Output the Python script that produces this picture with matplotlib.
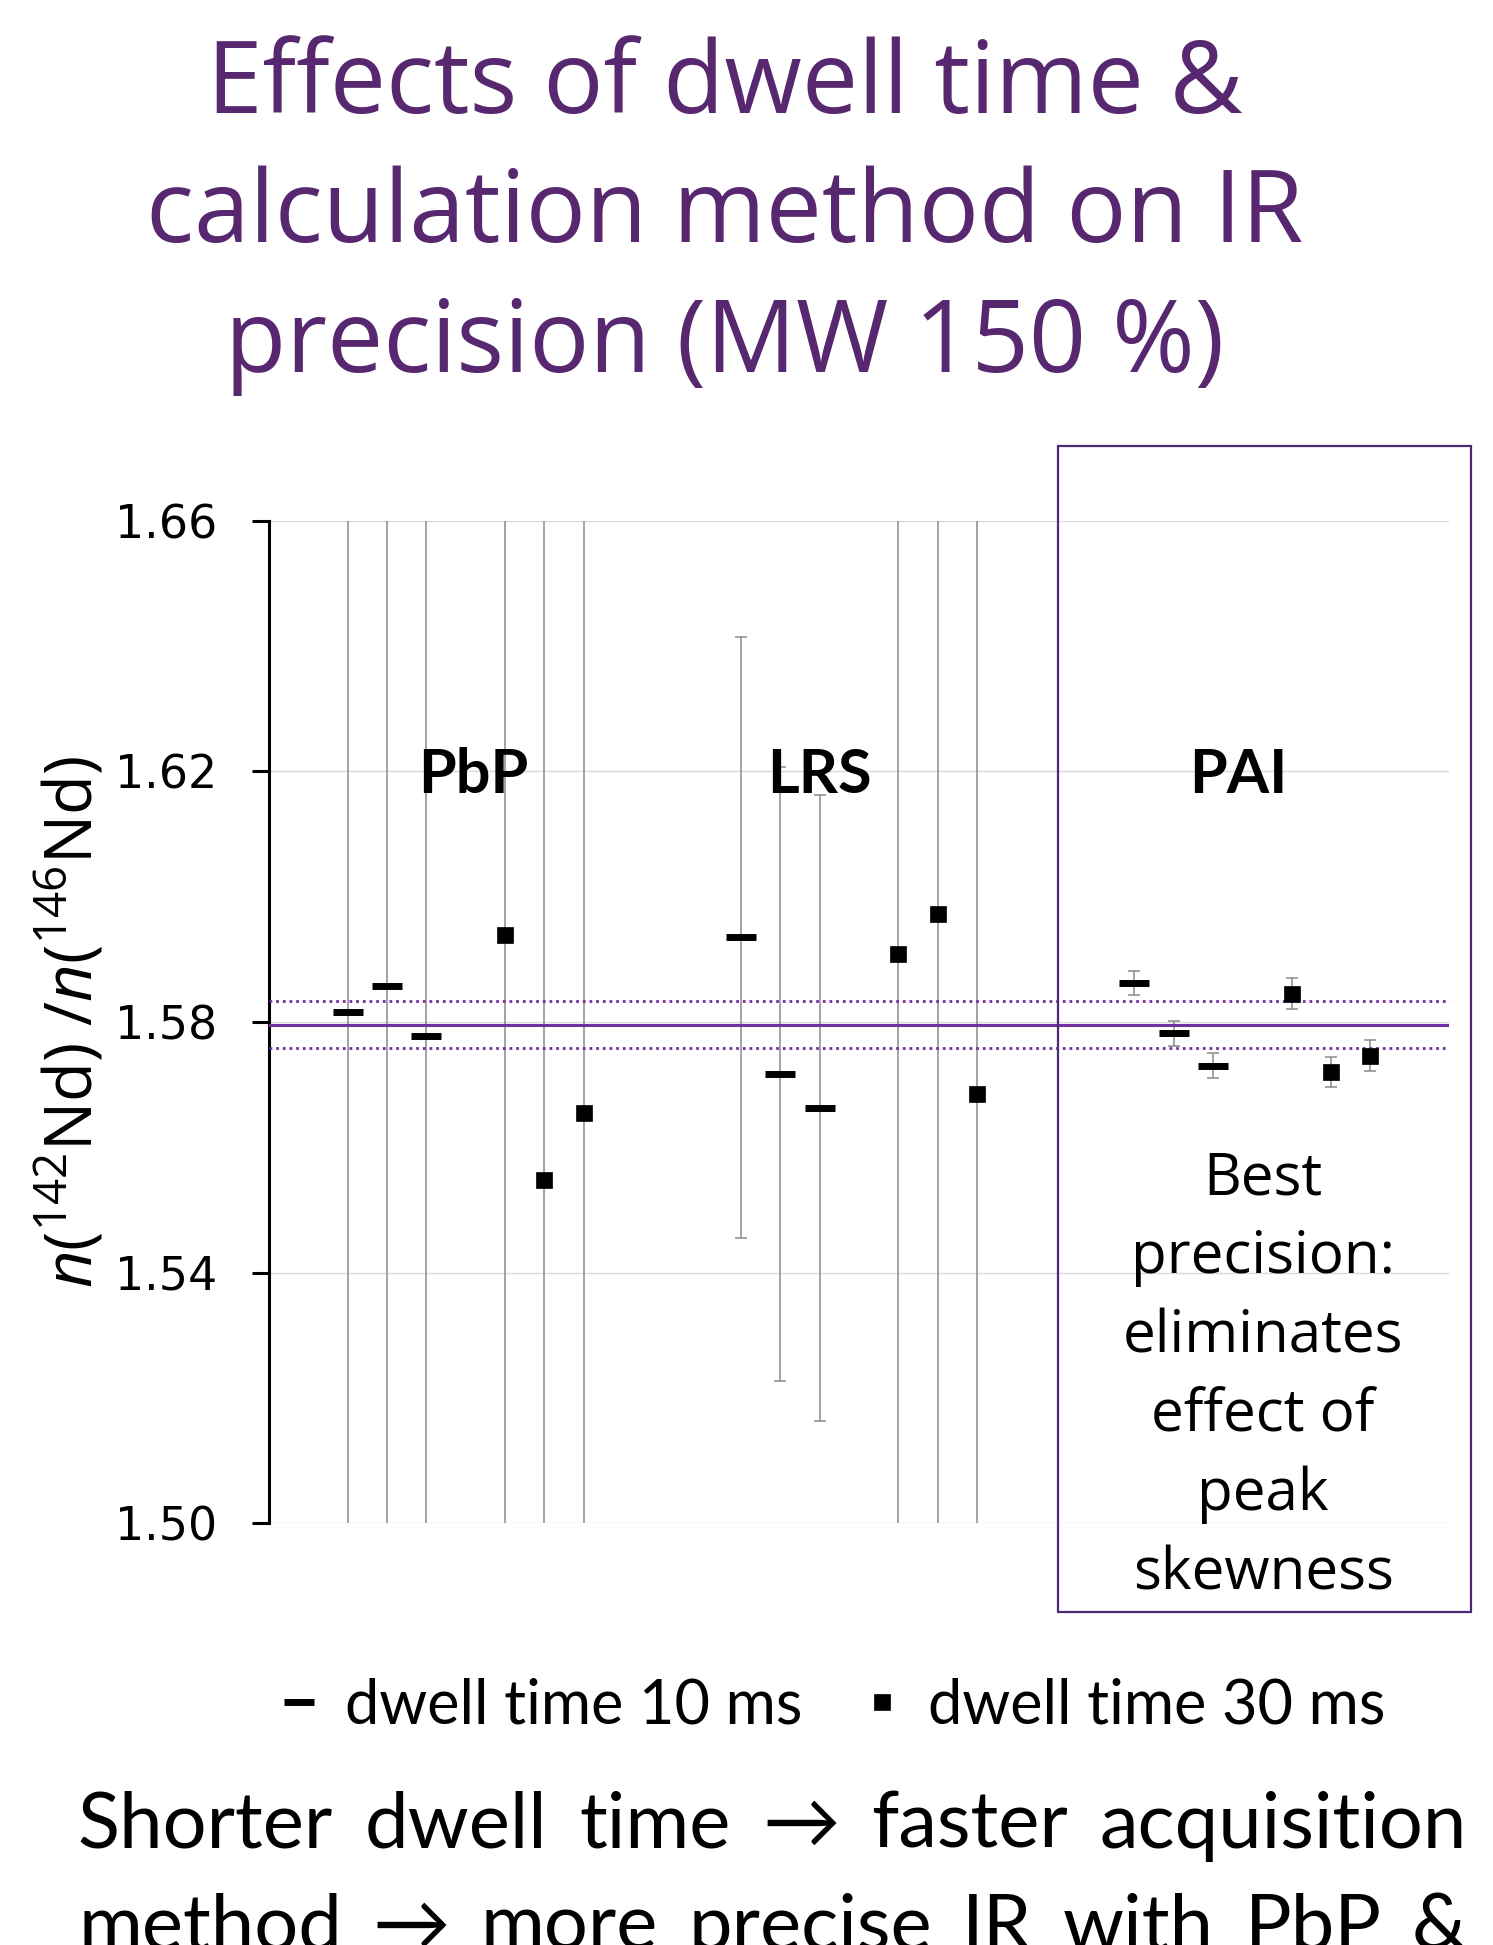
import matplotlib
matplotlib.use('Agg')
import matplotlib.pyplot as plt
from matplotlib.patches import Rectangle

# -----DATA---------------------------------------------------------------------#
methods = ['PbP', 'LRS', 'PAI']
# mean ratio for the three runs of each method, per dwell time
ratio_10ms = [[1.5816, 1.5857, 1.5778],
              [1.5935, 1.5717, 1.5663],
              [1.5862, 1.5782, 1.5730]]
err_10ms = [[0.15, 0.15, 0.15],
            [0.048, 0.049, 0.050],
            [0.0019, 0.0020, 0.0020]]
ratio_30ms = [[1.5939, 1.5547, 1.5655],
              [1.5909, 1.5972, 1.5685],
              [1.5845, 1.5720, 1.5746]]
err_30ms = [[0.15, 0.15, 0.15],
            [0.15, 0.15, 0.15],
            [0.0025, 0.0024, 0.0025]]
ref_value = 1.5796
ref_unc = 0.0038
yticks = [1.50, 1.54, 1.58, 1.62, 1.66]
series_labels = ['dwell time 10 ms', 'dwell time 30 ms']

title = 'Effects of dwell time &\ncalculation method on IR\nprecision (MW 150 %)'
note = 'Best\nprecision:\neliminates\neffect of\npeak\nskewness'
bottom_lines = ['Shorter dwell time \u2192 faster acquisition',
                'method \u2192 more precise IR with PbP &']

# -----FIGURE-------------------------------------------------------------------#
W, H = 1493, 1945
fig = plt.figure(figsize=(W / 100, H / 100), dpi=100)
plt.rcParams['mathtext.fontset'] = 'custom'
plt.rcParams['mathtext.rm'] = 'Open Sans'
plt.rcParams['mathtext.it'] = 'Open Sans:italic'

purple = '#57286F'
ax = fig.add_axes([269 / W, 1 - 1523 / H, (1449 - 269) / W, (1523 - 521) / H])

# slot positions: 3 runs at 10 ms, gap, 3 runs at 30 ms, then next method
x10, y10, e10, x30, y30, e30 = [], [], [], [], [], []
for g in range(len(methods)):
    for k in range(3):
        x10.append(10 * g + k)
        y10.append(ratio_10ms[g][k])
        e10.append(err_10ms[g][k])
        x30.append(10 * g + 4 + k)
        y30.append(ratio_30ms[g][k])
        e30.append(err_30ms[g][k])

ax.errorbar(x10 + x30, y10 + y30, yerr=e10 + e30, fmt='none', ecolor='#8A8A8A',
            elinewidth=1.1, capsize=4, capthick=1.1, zorder=2)

ax.axhline(ref_value, color='#7030A0', lw=2.2, zorder=3)
for s in (-1, 1):
    ax.axhline(ref_value + s * ref_unc, color='#7030A0', lw=2.0,
               ls=(0, (1, 1.4)), zorder=3)

h10, = ax.plot(x10, y10, ls='none', marker='_', ms=21.6, mew=5, color='black',
               zorder=4, label=series_labels[0])
h30, = ax.plot(x30, y30, ls='none', marker='s', ms=11, mew=0.5, mfc='black',
               mec='black', zorder=4, label=series_labels[1])

ax.set_xlim(-2, 28)
ax.set_ylim(1.50, 1.66)
ax.set_yticks(yticks)
ax.set_yticklabels(['%.2f' % t for t in yticks], fontfamily='DejaVu Sans')
ax.set_xticks([])
ax.yaxis.grid(True, color='#D9D9D9', lw=1.0)
ax.set_axisbelow(True)
for side in ('top', 'right', 'bottom'):
    ax.spines[side].set_visible(False)
ax.spines['left'].set_linewidth(2.2)
ax.tick_params(axis='y', direction='out', length=12, width=2.2, pad=25,
               labelsize=33)

# method labels
for name, xm in zip(methods, [3.2, 12.0, 22.65]):
    ax.text(xm, 1.6166, name, ha='center', va='baseline', fontsize=44,
            fontweight='bold', family='Lato', zorder=5)

fig.text(72 / W, 1 - 1022 / H,
         r'$\mathit{n}$($^{142}$Nd) /$\mathit{n}$($^{146}$Nd)',
         rotation=90, ha='center', va='center', fontsize=47, family='Open Sans')

# va='baseline' on multi-line text anchors the last line
fig.text(725 / W, 1 - 372 / H, title, ha='center', va='baseline',
         fontsize=72, color=purple, family='Open Sans', linespacing=1.38)

fig.add_artist(Rectangle((1058 / W, 1 - 1612 / H), (1471 - 1058) / W,
                         (1612 - 446) / H, transform=fig.transFigure,
                         fill=False, ec='#4E2A72', lw=1.6))
fig.text(1263 / W, 1 - 1589 / H, note, ha='center', va='baseline',
         fontsize=42, family='Open Sans', linespacing=1.46)

fig.legend(handles=[h10, h30], loc='center', bbox_to_anchor=(833 / W, 1 - 1706 / H),
           ncol=2, frameon=False, prop={'family': 'Lato', 'size': 44},
           handlelength=0.6, handletextpad=0.45, columnspacing=1.0)

# justified two-line caption at the bottom
renderer = fig.canvas.get_renderer()
for line, base in zip(bottom_lines, [1848, 1950]):
    words = line.split(' ')
    texts = [fig.text(0, 1 - base / H, w, ha='left', va='baseline', fontsize=56,
                      family=['Lato', 'DejaVu Sans']) for w in words]
    widths = [t.get_window_extent(renderer).width for t in texts]
    gap = (1467 - 78 - sum(widths)) / (len(words) - 1)
    x = 78
    for t, w in zip(texts, widths):
        t.set_x(x / W)
        x += w + gap

fig.savefig('out.png', dpi=100)
